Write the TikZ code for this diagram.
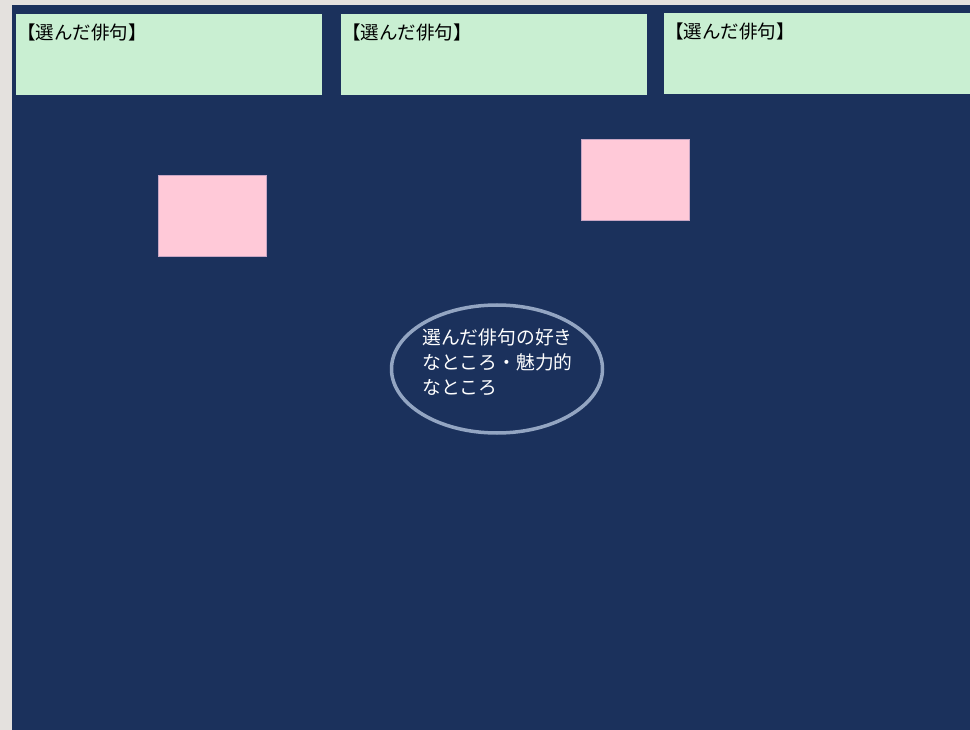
\documentclass[tikz,border=0pt]{standalone}
\usepackage{fontspec}
\newfontfamily\cjk{Noto Sans CJK JP}
\usetikzlibrary{shapes.geometric}
\definecolor{bggrey}{HTML}{E4E1DE}
\definecolor{navy}{HTML}{1B315C}
\definecolor{mint}{HTML}{C9EFD2}
\definecolor{pinkish}{HTML}{FFC9D8}
\definecolor{pinkedge}{HTML}{C8A6C4}
\definecolor{ringcol}{HTML}{93A5C2}
\tikzset{
  x=1pt, y=-1pt,
  greenbox/.style={fill=mint, draw=none},
  pinkbox/.style={fill=pinkish, draw=pinkedge, line width=0.8pt},
  boxlabel/.style={anchor=west, font=\cjk\fontsize{18.5}{22}\selectfont, text=black, inner sep=0pt},
  ring/.style={ellipse, draw=ringcol, line width=3.5pt, minimum width=211pt, minimum height=128pt, inner sep=0pt},
}
\begin{document}
\begin{tikzpicture}
\useasboundingbox (0,0) rectangle (970,730);
\fill[bggrey] (0,0) rectangle (970,730);
\fill[navy] (12,5) rectangle (970,730);
\path[greenbox] (16,14) rectangle (322,95);
\path[greenbox] (341,14) rectangle (647,95);
\path[greenbox] (664,13) rectangle (970,94);
\node[boxlabel] (l1) at (17,32) {【選んだ俳句】};
\node[boxlabel] (l2) at (342,32) {【選んだ俳句】};
\node[boxlabel] (l3) at (665,31) {【選んだ俳句】};
\path[pinkbox] (158,175) rectangle (266,256);
\path[pinkbox] (581,139) rectangle (689,220);
\node[ring] (e) at (497,369) {};
\node[anchor=north west, text=white, font=\cjk\fontsize{18.8}{24.6}\selectfont, align=left, inner sep=0pt] (t) at (422,329) {選んだ俳句の好き\\なところ・魅力的\\なところ};
\end{tikzpicture}
\end{document}
